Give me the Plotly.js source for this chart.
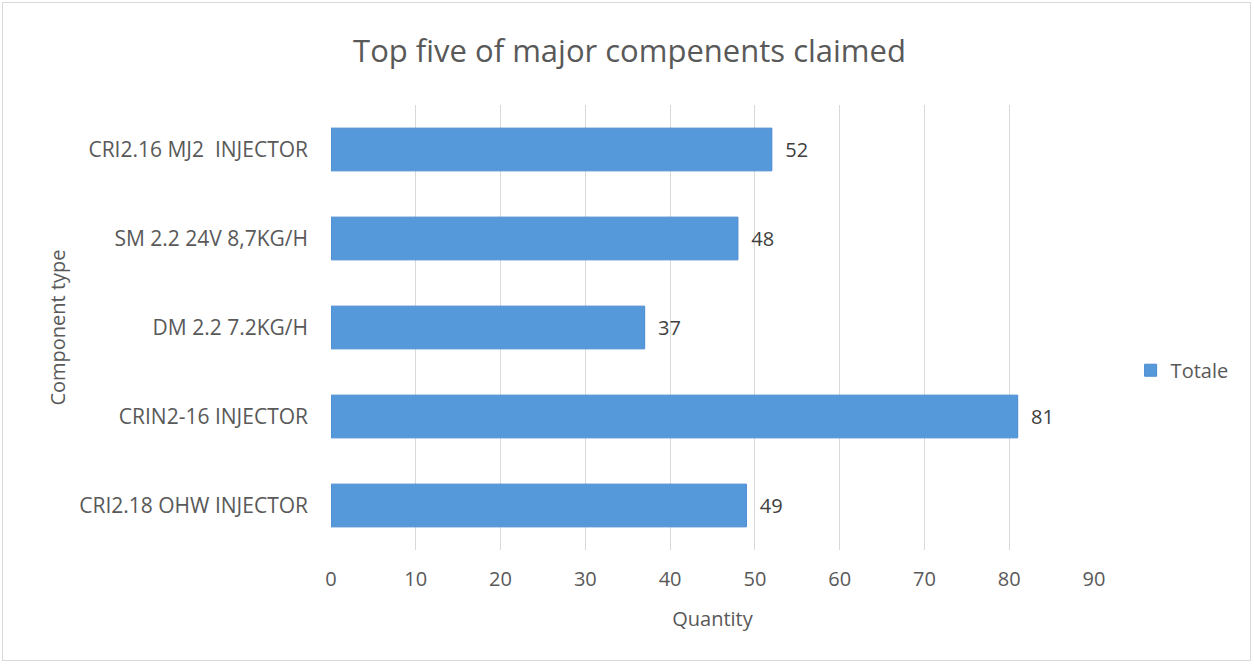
<!DOCTYPE html>
<html>
<head>
<meta charset="utf-8">
<script src="https://cdn.plot.ly/plotly-3.0.1.min.js"></script>
<style>
html,body{margin:0;padding:0;background:#fff;}
#wrap{position:relative;width:1254px;height:664px;}
#chart{width:1254px;height:664px;}
#frame{position:absolute;left:2px;top:2px;width:1247px;height:657px;border:1px solid #d9d9d9;pointer-events:none;}
</style>
</head>
<body>
<div id="wrap"><div id="chart"></div><div id="frame"></div></div>
<script>
const categories = ["CRI2.18 OHW INJECTOR", "CRIN2-16 INJECTOR", "DM 2.2 7.2KG/H", "SM 2.2 24V 8,7KG/H", "CRI2.16 MJ2  INJECTOR"];
const totale = [49, 81, 37, 48, 52];
const xTicks = [0, 10, 20, 30, 40, 50, 60, 70, 80, 90];

const FONT = "Open Sans, Noto Sans, sans-serif";
const GREY = "#595959";

const trace = {
  type: "bar",
  orientation: "h",
  name: "Totale",
  y: categories,
  x: totale,
  text: totale.map(v => "\u00a0\u00a0" + v),
  textposition: "outside",
  cliponaxis: false,
  textfont: {family: FONT, size: 20, color: "#404040"},
  marker: {color: "#5699db", line: {color: "#4a8ad0", width: 1}},
  width: 0.48
};

const layout = {
  width: 1254, height: 664,
  margin: {l: 331, r: 160, t: 105, b: 114},
  paper_bgcolor: "#ffffff", plot_bgcolor: "#ffffff",
  font: {family: FONT, color: GREY, size: 20},
  title: {text: "Top five of major compenents claimed", font: {family: FONT, size: 31, color: GREY}, x: 0.502, xanchor: "center", y: 0.923, yanchor: "middle"},
  xaxis: {
    range: [0, 90], tickvals: xTicks, ticktext: xTicks.map(String),
    showgrid: true, gridcolor: "#d9d9d9", gridwidth: 1, zeroline: false,
    showline: false, ticks: "", ticklabelstandoff: 15,
    tickfont: {family: FONT, size: 20, color: GREY},
    title: {text: "Quantity", font: {family: FONT, size: 20, color: GREY}, standoff: 20}
  },
  yaxis: {
    type: "category", categoryorder: "array", categoryarray: categories,
    showgrid: false, zeroline: false, showline: false, ticks: "",
    ticklabelstandoff: 22,
    tickfont: {family: FONT, size: 21, color: GREY},
    title: {text: "Component type", font: {family: FONT, size: 20, color: GREY}, standoff: 8}
  },
  showlegend: true,
  legend: {x: 1.048, y: 0.404, xanchor: "left", yanchor: "middle", font: {family: FONT, size: 20, color: GREY}, itemwidth: 30},
  bargap: 0.52
};

Plotly.newPlot("chart", [trace], layout, {displayModeBar: false, staticPlot: true});
</script>
</body>
</html>
